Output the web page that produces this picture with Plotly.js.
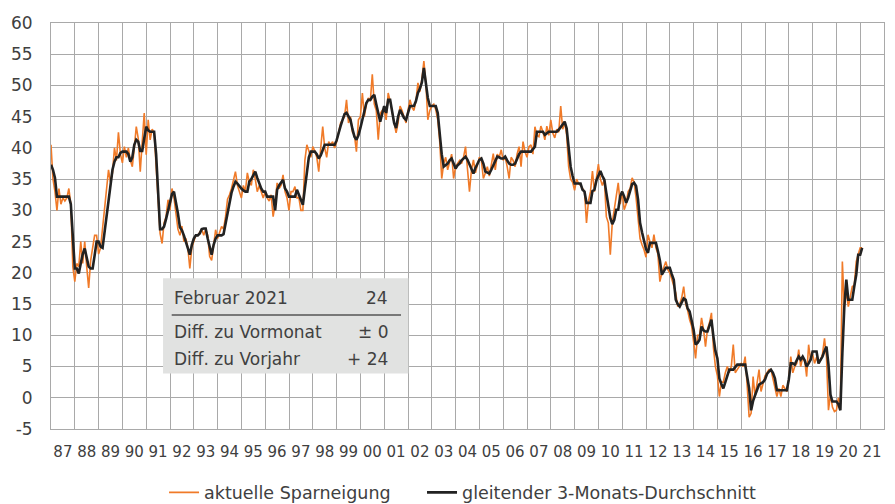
<!DOCTYPE html>
<html>
<head>
<meta charset="utf-8">
<script src="https://cdn.plot.ly/plotly-3.0.1.min.js"></script>
<style>
html,body{margin:0;padding:0;background:#fff;}
#chart{width:895px;height:504px;}
</style>
</head>
<body>
<div id="chart"></div>
<script>
// Monthly data, January 1987 to February 2021
const startYear = 1987;

const sparneigung = [
  40.5, 35, 33, 30, 33.5, 31, 32, 31.5, 32, 33.5, 31, 21,          // 1987
  18.6, 21.5, 21, 25, 21.5, 25, 21, 17.6, 22, 24, 26, 26,          // 1988
  23, 24, 27, 30, 33, 36.5, 34.5, 36, 40, 38, 42.5, 39,            // 1989
  37.6, 40.2, 38.5, 40, 38, 37, 40, 43.4, 41.5, 36.2, 41, 45.6,    // 1990
  38.9, 44.5, 41.3, 43, 42.5, 37, 30, 26.3, 24.7, 28, 29, 31.7,    // 1991
  30, 33.5, 32, 29, 27, 26, 27.5, 25, 25.5, 24, 20.7, 24,          // 1992
  25, 26, 26, 26.5, 27, 26, 27, 26, 22.6, 22, 24.5, 26.9,          // 1993
  25.5, 26.5, 27.4, 27, 29, 31.8, 32.5, 33.5, 35, 36.2, 34, 33,    // 1994
  32, 34, 33, 36, 34.5, 34, 36.5, 35, 33, 34, 33, 32,              // 1995
  33, 32, 31.5, 32.5, 29, 31, 34.4, 33.5, 34, 35.7, 33, 32,        // 1996
  30, 33, 33, 33.8, 32, 32, 30, 30, 38, 40.5, 39.5, 38.5,          // 1997
  40.2, 39.5, 38.5, 36.2, 40, 43.4, 40, 38.5, 41, 40.5, 41, 40,    // 1998
  41, 42.5, 44, 44.5, 45, 47.7, 44, 45, 42.5, 42, 39.4, 44.5,      // 1999
  45, 48.8, 45, 47, 48, 47.5, 51.8, 47, 46, 41.3, 45.5, 46,        // 2000
  46.1, 44.5, 48.8, 47.5, 46, 44, 42.4, 44, 46.7, 46, 45, 44,      // 2001
  46, 47.7, 46.5, 46, 47.5, 50.4, 49, 51, 53.9, 50.4, 44.5, 46,    // 2002
  46.7, 47, 46.1, 44.5, 41, 35.1, 37.5, 38.5, 36.5, 38, 39, 35.1,  // 2003
  37, 37.5, 38, 37.5, 38.5, 40.2, 37, 33, 36.5, 38.1, 36, 37.5,    // 2004
  38.5, 38, 35.1, 36, 37, 35.5, 37.5, 39.1, 36.5, 39, 38.5, 39.7,  // 2005
  38, 38.5, 37, 35.1, 38.5, 38, 37, 39, 40.2, 37, 41, 39.4,        // 2006
  38.5, 40.2, 40.5, 39, 43.4, 42, 41.8, 43.5, 42.6, 41.3, 43.5, 42,// 2007
  44.5, 42.4, 41.6, 43, 42.5, 46.7, 43, 44.2, 42, 37, 35, 34.5,    // 2008
  33.2, 35, 34.3, 34, 33.5, 33, 28, 31.5, 33, 36.3, 33, 35,        // 2009
  37.4, 35, 34, 35, 29, 28, 22.9, 28, 30.1, 32, 34.4, 31,          // 2010
  33, 30.1, 31, 33, 33.5, 35.2, 34.5, 32, 28, 25.5, 24.5, 23.7,    // 2011
  22.5, 26.1, 25, 24, 26.1, 24, 23, 18.6, 20, 21, 21.8, 20.5,      // 2012
  20, 19, 18, 16.8, 14.6, 15, 16, 17.8, 15, 14, 12.5, 11.5,        // 2013
  9, 6.3, 10, 10, 12.8, 11, 8.2, 11, 12, 13.6, 8, 5,               // 2014
  3.5, 0.2, 2.5, 2.5, 4, 5, 4, 5, 8.5, 4, 4.5, 5,                  // 2015
  5.5, 5, 6.6, 2, -3.1, -2.5, 3.4, 0.2, 2.5, 4.5, 1, 2.5,          // 2016
  3.5, 4, 4.5, 4.5, 3, 2, 0.2, 1.5, 0.2, 2, 1.5, 1,                // 2017
  3, 6.6, 4, 5, 5.5, 7.7, 5, 6.5, 6, 3.4, 8.5, 6,                  // 2018
  7, 5.5, 6.5, 5.5, 6, 7, 9.5, 6.5, -2, 0.5, -1.5, -2.2,           // 2019
  -2, 0, -1, 21.8, 14.6, 17, 14.6, 16, 17.8, 18, 21.8, 23,         // 2020
  24, 24                                                           // 2021
];

const durchschnitt = [
  37.3, 36.5, 35.2, 32.2, 32.2, 32.2, 32.2, 32.2, 32.2, 32.2, 31.0, 25.5, // 1987
  20.7, 20.7, 19.9, 21.5, 23.0, 23.9, 22.5, 21.0, 20.7, 20.7, 22.8, 25.0, // 1988
  25.0, 24.2, 24.0, 26.5, 29.5, 32.0, 34.5, 36.5, 37.8, 38.5, 38.5, 39.2, // 1989
  39.4, 39.4, 39.4, 39.0, 37.8, 38.5, 40.5, 41.3, 41.0, 39.5, 39.5, 41.5, // 1990
  43.4, 42.8, 42.6, 42.6, 42.6, 39.0, 33.5, 27.0, 27.0, 27.4, 28.6, 30.0, // 1991
  31.3, 32.6, 33.0, 31.5, 29.5, 27.3, 26.8, 26.0, 25.0, 23.8, 22.9, 24.5, // 1992
  25.5, 26.0, 26.0, 26.3, 27.0, 27.1, 27.1, 25.5, 24.0, 22.9, 24.5, 25.5, // 1993
  26.0, 26.0, 26.0, 26.2, 28.0, 29.8, 31.5, 32.8, 33.8, 34.6, 34.3, 33.8, // 1994
  33.5, 33.2, 33.0, 33.0, 34.6, 35.0, 35.5, 36.2, 35.2, 34.2, 33.5, 33.0, // 1995
  33.0, 32.2, 32.2, 32.2, 32.2, 30.0, 33.3, 34.0, 34.5, 34.9, 33.5, 33.0, // 1996
  32.2, 32.2, 32.2, 32.2, 33.3, 32.5, 31.9, 30.9, 33.5, 36.0, 38.5, 39.4, // 1997
  39.4, 39.4, 39.0, 38.3, 38.8, 39.8, 40.5, 40.5, 40.5, 40.5, 40.5, 40.5, // 1998
  41.2, 42.6, 43.5, 44.5, 45.4, 45.6, 45.0, 44.5, 43.0, 41.8, 41.3, 42.0, // 1999
  43.2, 44.5, 46.0, 47.2, 47.7, 47.7, 48.2, 48.5, 47.0, 45.5, 44.2, 45.5, // 2000
  46.7, 45.6, 47.7, 47.7, 45.9, 44.0, 43.2, 45.0, 46.1, 45.5, 44.8, 44.5, // 2001
  45.5, 46.7, 46.7, 46.7, 47.5, 48.8, 49.5, 50.5, 52.8, 50.5, 48.0, 46.7, // 2002
  46.7, 46.7, 46.7, 45.6, 42.0, 39.0, 37.0, 37.2, 37.5, 38.0, 38.3, 37.5, // 2003
  36.7, 37.2, 37.5, 38.0, 38.3, 38.6, 38.1, 37.3, 36.6, 35.9, 36.8, 37.5, // 2004
  38.1, 38.3, 37.5, 36.2, 36.0, 35.9, 36.5, 37.2, 37.8, 38.6, 38.5, 38.3, // 2005
  38.3, 38.6, 38.0, 37.5, 37.3, 37.3, 37.5, 38.2, 39.0, 39.4, 39.4, 39.4, // 2006
  39.4, 39.4, 39.4, 39.8, 40.2, 42.6, 42.6, 42.6, 42.6, 42.1, 42.4, 42.6, // 2007
  42.6, 42.6, 42.6, 42.6, 42.9, 43.4, 43.8, 44.2, 43.1, 39.7, 37.0, 35.5, // 2008
  34.3, 34.3, 34.3, 34.3, 33.3, 33.0, 31.2, 31.2, 31.2, 33.1, 33.3, 34.8, // 2009
  35.5, 36.3, 35.5, 34.9, 32.8, 30.8, 28.8, 27.8, 28.5, 30.1, 30.1, 32.3, // 2010
  33.0, 32.2, 31.2, 32.0, 33.1, 34.2, 34.4, 33.9, 31.7, 28.0, 26.5, 25.3, // 2011
  23.8, 23.2, 24.8, 24.8, 24.8, 24.8, 23.5, 22.0, 19.7, 20.3, 20.8, 20.8, // 2012
  20.8, 19.8, 18.9, 15.7, 15.0, 14.6, 15.2, 15.9, 15.7, 14.3, 13.8, 12.5, // 2013
  10.9, 8.5, 8.8, 9.3, 11.4, 10.8, 10.6, 10.6, 11.5, 12.5, 9.8, 7.5,      // 2014
  6.3, 3.1, 2.2, 1.5, 2.5, 3.5, 4.5, 4.5, 4.5, 4.9, 5.3, 5.3,             // 2015
  5.3, 5.3, 5.3, 3.4, 1.5, -2.0, -0.5, 0.4, 1.3, 2.1, 2.3, 2.5,           // 2016
  2.9, 3.8, 4.2, 4.5, 4.0, 3.1, 1.2, 1.2, 1.2, 1.2, 1.2, 1.2,             // 2017
  2.9, 5.5, 5.5, 5.3, 6.0, 6.6, 6.1, 6.6, 6.0, 5.0, 5.5, 6.1,             // 2018
  7.4, 7.4, 7.4, 5.5, 6.0, 6.6, 7.5, 8.2, 5.3, 0.5, -0.6, -0.6,           // 2019
  -0.6, -1.0, -2.0, 7.1, 14.6, 18.9, 15.7, 15.7, 15.7, 17.8, 19.7, 22.9,  // 2020
  22.9, 24.0                                                              // 2021
];

const xTickLabels = ['87','88','89','90','91','92','93','94','95','96','97','98','99','00','01','02','03','04','05','06','07','08','09','10','11','12','13','14','15','16','17','18','19','20','21'];
const yTickLabels = ['-5','0','5','10','15','20','25','30','35','40','45','50','55','60'];
const yTickValues = [-5,0,5,10,15,20,25,30,35,40,45,50,55,60];

const seriesNames = ['aktuelle Sparneigung', 'gleitender 3-Monats-Durchschnitt'];

const boxRows = [
  ['Februar 2021', '24'],
  ['Diff. zu Vormonat', '\u00B1 0'],
  ['Diff. zu Vorjahr', '+ 24']
];

// x positions (decimal years) built from the month index
const xMonths = sparneigung.map((_, i) => startYear + i / 12);
const yearCenters = xTickLabels.map((_, i) => startYear + i + 0.5);
const yearBounds = xTickLabels.map((_, i) => startYear + i);

const gridColor = '#a9a9a9';
const textColor = '#404040';
const fontFamily = '"DejaVu Sans", sans-serif';

const traces = [
  {
    x: xMonths, y: sparneigung, type: 'scatter', mode: 'lines',
    name: seriesNames[0], legend: 'legend',
    line: {color: '#f07a28', width: 1.6}
  },
  {
    x: xMonths.slice(0, durchschnitt.length), y: durchschnitt, type: 'scatter', mode: 'lines',
    name: seriesNames[1], legend: 'legend2',
    line: {color: '#222222', width: 2.6}
  }
];

const rowY = [0.322, 0.2385, 0.173];
const annotations = [];
boxRows.forEach((row, i) => {
  annotations.push({xref:'paper', yref:'paper', x:0.1453, y:rowY[i], xanchor:'left', yanchor:'middle',
    text: row[0], showarrow:false, font:{family:fontFamily, size:17, color:textColor}});
  annotations.push({xref:'paper', yref:'paper', x:0.407, y:rowY[i], xanchor:'right', yanchor:'middle',
    text: row[1], showarrow:false, font:{family:fontFamily, size:17, color:textColor}});
});

const legendCommon = {orientation: 'h', y: -0.112, yanchor: 'top', xanchor: 'left',
  font: {family: fontFamily, size: 17.5, color: textColor}, itemwidth: 30, bgcolor: 'rgba(0,0,0,0)'};

const layout = {
  width: 895, height: 504,
  margin: {l: 51, r: 11, t: 23, b: 75, pad: 0, autoexpand: false},
  paper_bgcolor: '#ffffff', plot_bgcolor: '#ffffff',
  font: {family: fontFamily, color: textColor},
  showlegend: true,
  legend: Object.assign({}, legendCommon, {x: 0.1357}),
  legend2: Object.assign({}, legendCommon, {x: 0.4454}),
  xaxis: {
    range: [1987, 2022], tickmode: 'array', tickvals: yearCenters, ticktext: xTickLabels,
    showgrid: false, zeroline: false, ticks: '', ticklabelstandoff: 9,
    tickfont: {family: fontFamily, size: 15, color: textColor},
    showline: true, mirror: true, linecolor: gridColor, linewidth: 1,
    minor: {tickmode: 'array', tickvals: yearBounds, showgrid: true, gridcolor: gridColor, gridwidth: 1, ticks: ''},
    fixedrange: true
  },
  yaxis: {
    range: [-5, 60], tickmode: 'array', tickvals: yTickValues, ticktext: yTickLabels,
    showgrid: true, gridcolor: gridColor, gridwidth: 1, zeroline: false, ticks: '',
    ticklabelstandoff: 14,
    tickfont: {family: fontFamily, size: 17, color: textColor},
    showline: true, mirror: true, linecolor: gridColor, linewidth: 1,
    fixedrange: true
  },
  shapes: [
    {type:'rect', xref:'paper', yref:'paper', x0:0.1345, x1:0.429, y0:0.137, y1:0.371,
      fillcolor:'#e1e2e1', line:{width:0}, layer:'above'},
    {type:'line', xref:'paper', yref:'paper', x0:0.1449, x1:0.4202, y0:0.2808, y1:0.2808,
      line:{color:'#555555', width:1.5}, layer:'above'}
  ],
  annotations: annotations
};

Plotly.newPlot('chart', traces, layout, {staticPlot: true, displayModeBar: false});
</script>
</body>
</html>
